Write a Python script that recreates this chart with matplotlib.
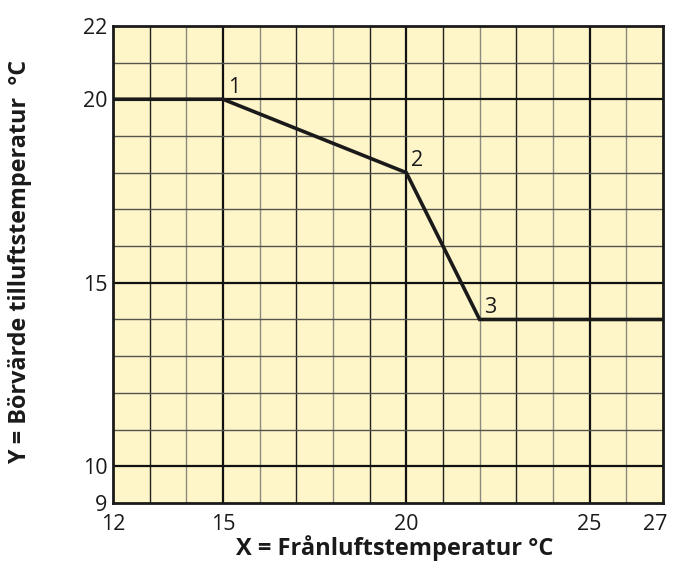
import matplotlib.pyplot as plt
from matplotlib.transforms import ScaledTranslation

plt.rcParams['font.family'] = ['Open Sans', 'DejaVu Sans']

x = [12, 15, 20, 22, 27]
y = [20, 20, 18, 14, 14]
punkter = [(15, 20, '1'), (20, 18, '2'), (22, 14, '3')]

xticks = [12, 15, 20, 25, 27]
yticks = [9, 10, 15, 20, 22]

fig = plt.figure(figsize=(6.73, 5.62), dpi=100)
ax = fig.add_axes([0.168, 0.105, 0.817, 0.849])
ax.set_facecolor('#fef5c8')

# rutnät
for i in range(13, 27):
    if i % 5 == 0:
        ax.axvline(i, color='#111111', lw=1.6, zorder=1)
    elif i % 2 == 1:
        ax.axvline(i, color='#222222', lw=1.0, zorder=1)
    else:
        ax.axvline(i, color='#8a8a80', lw=1.0, zorder=1)
for j in range(10, 22):
    if j % 5 == 0:
        ax.axhline(j, color='#111111', lw=1.6, zorder=1)
    else:
        ax.axhline(j, color='#555550', lw=1.0, zorder=1)

ax.plot(x, y, color='#1a1a1a', lw=2.6, zorder=3, solid_joinstyle='miter')
for px, py, txt in punkter:
    ax.text(px + 0.13, py + 0.17, txt, fontsize=15.5, color='#1a1a1a',
            ha='left', va='baseline')

ax.set_xlim(12, 27)
ax.set_ylim(9, 22)
ax.set_xticks(xticks)
ax.set_yticks(yticks)
ax.tick_params(length=0, labelsize=15.5, colors='#1a1a1a')
ax.tick_params(axis='x', pad=8)
ax.tick_params(axis='y', pad=4)
for s in ax.spines.values():
    s.set_linewidth(2)
    s.set_color('#1a1a1a')

# sista etiketten lite åt vänster så den inte klipps
sista = ax.get_xticklabels()[-1]
sista.set_transform(sista.get_transform() + ScaledTranslation(-0.08, 0, fig.dpi_scale_trans))

fig.text(0.587, 0.013, 'X = Frånluftstemperatur °C', ha='center', va='baseline',
         fontsize=17, fontweight='bold', color='#1a1a1a')
fig.text(0.03, 0.534, 'Y = Börvärde tilluftstemperatur  °C', ha='center', va='center',
         rotation=90, fontsize=16.8, fontweight='bold', color='#1a1a1a')

fig.savefig('out.png', dpi=100)
